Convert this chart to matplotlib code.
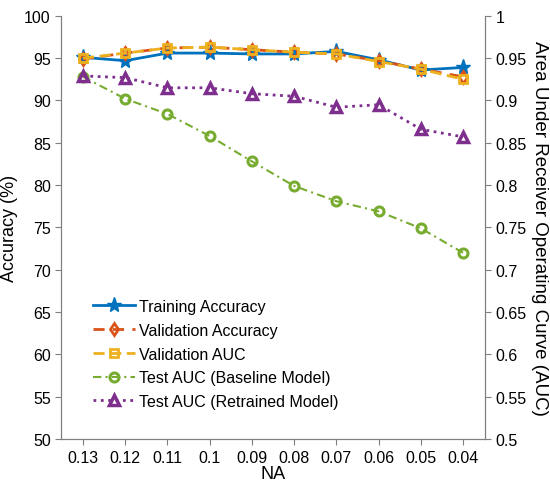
import numpy as np
import matplotlib.pyplot as plt

plt.rcParams['font.family'] = ['Liberation Sans', 'DejaVu Sans']

na_labels = ['0.13', '0.12', '0.11', '0.1', '0.09', '0.08', '0.07', '0.06', '0.05', '0.04']

# accuracy (%) on the left axis
train_acc = [95.1, 94.7, 95.6, 95.6, 95.5, 95.5, 95.8, 94.8, 93.6, 93.9]
val_acc = [94.9, 95.6, 96.2, 96.3, 96.0, 95.7, 95.5, 94.7, 93.7, 92.8]

# AUC on the right axis
val_auc = [0.950, 0.956, 0.962, 0.963, 0.960, 0.957, 0.955, 0.946, 0.937, 0.925]
test_auc_base = [0.928, 0.902, 0.884, 0.858, 0.828, 0.799, 0.781, 0.769, 0.749, 0.720]
test_auc_retr = [0.929, 0.927, 0.915, 0.915, 0.908, 0.905, 0.892, 0.895, 0.866, 0.857]

c = {"blue": "#0072BD",
     "orange": "#D95319",
     "yellow": "#EDB120",
     "green": "#77AC30",
     "purple": "#7E2F8E"}

x = np.arange(len(na_labels))

fig = plt.figure(figsize=(5.5, 4.81), dpi=100)
ax = fig.add_axes([0.111, 0.085, 0.771, 0.88])
ax2 = ax.twinx()

h1, = ax.plot(x, train_acc, '-', color=c["blue"], lw=2, marker='*', ms=11,
              label='Training Accuracy')
h2, = ax.plot(x, val_acc, '--', color=c["orange"], lw=2, marker='d', ms=6,
              mfc='none', mew=2, dashes=(4, 3), label='Validation Accuracy')
h3, = ax2.plot(x, val_auc, '--', color=c["yellow"], lw=2, marker='s', ms=6,
               mfc='none', mew=2, dashes=(4, 2), label='Validation AUC')
h4, = ax2.plot(x, test_auc_base, color=c["green"], lw=1.5, marker='o', ms=6.5,
               mfc='none', mew=2.2, dashes=(4, 2, 1, 2), label='Test AUC (Baseline Model)')
h5, = ax2.plot(x, test_auc_retr, ':', color=c["purple"], lw=2, marker='^', ms=7.5,
               mfc='none', mew=2.5, label='Test AUC (Retrained Model)')

ax.set_ylim(50, 100)
ax2.set_ylim(0.5, 1)
ax.set_xlim(-0.52, 9.52)
ax.set_yticks(np.arange(50, 101, 5))
ax2.set_yticks(np.arange(0.5, 1.001, 0.05))
ax2.set_yticklabels(['0.5', '0.55', '0.6', '0.65', '0.7', '0.75', '0.8', '0.85',
                     '0.9', '0.95', '1'])
ax.set_xticks(x)
ax.set_xticklabels(na_labels)

for a in (ax, ax2):
    a.spines['top'].set_visible(False)
    for s in ('left', 'right', 'bottom'):
        a.spines[s].set_color('#7f7f7f')
    a.tick_params(colors='#7f7f7f', labelcolor='black', labelsize=11.5, length=4)

ax.set_xlabel('NA', fontsize=13, labelpad=0)
ax.set_ylabel('Accuracy (%)', fontsize=13, labelpad=4)
ax2.set_ylabel('Area Under Receiver Operating Curve (AUC)', fontsize=13.5,
               rotation=270, va='center')
ax2.yaxis.set_label_coords(1.128, 0.5)

leg = ax.legend(handles=[h1, h2, h3, h4, h5], loc='lower left',
                bbox_to_anchor=(0.042, 0.037), frameon=False, fontsize=11.5,
                handlelength=2.6, handletextpad=0.25, labelspacing=0.55)

fig.savefig('out.png', dpi=100)
